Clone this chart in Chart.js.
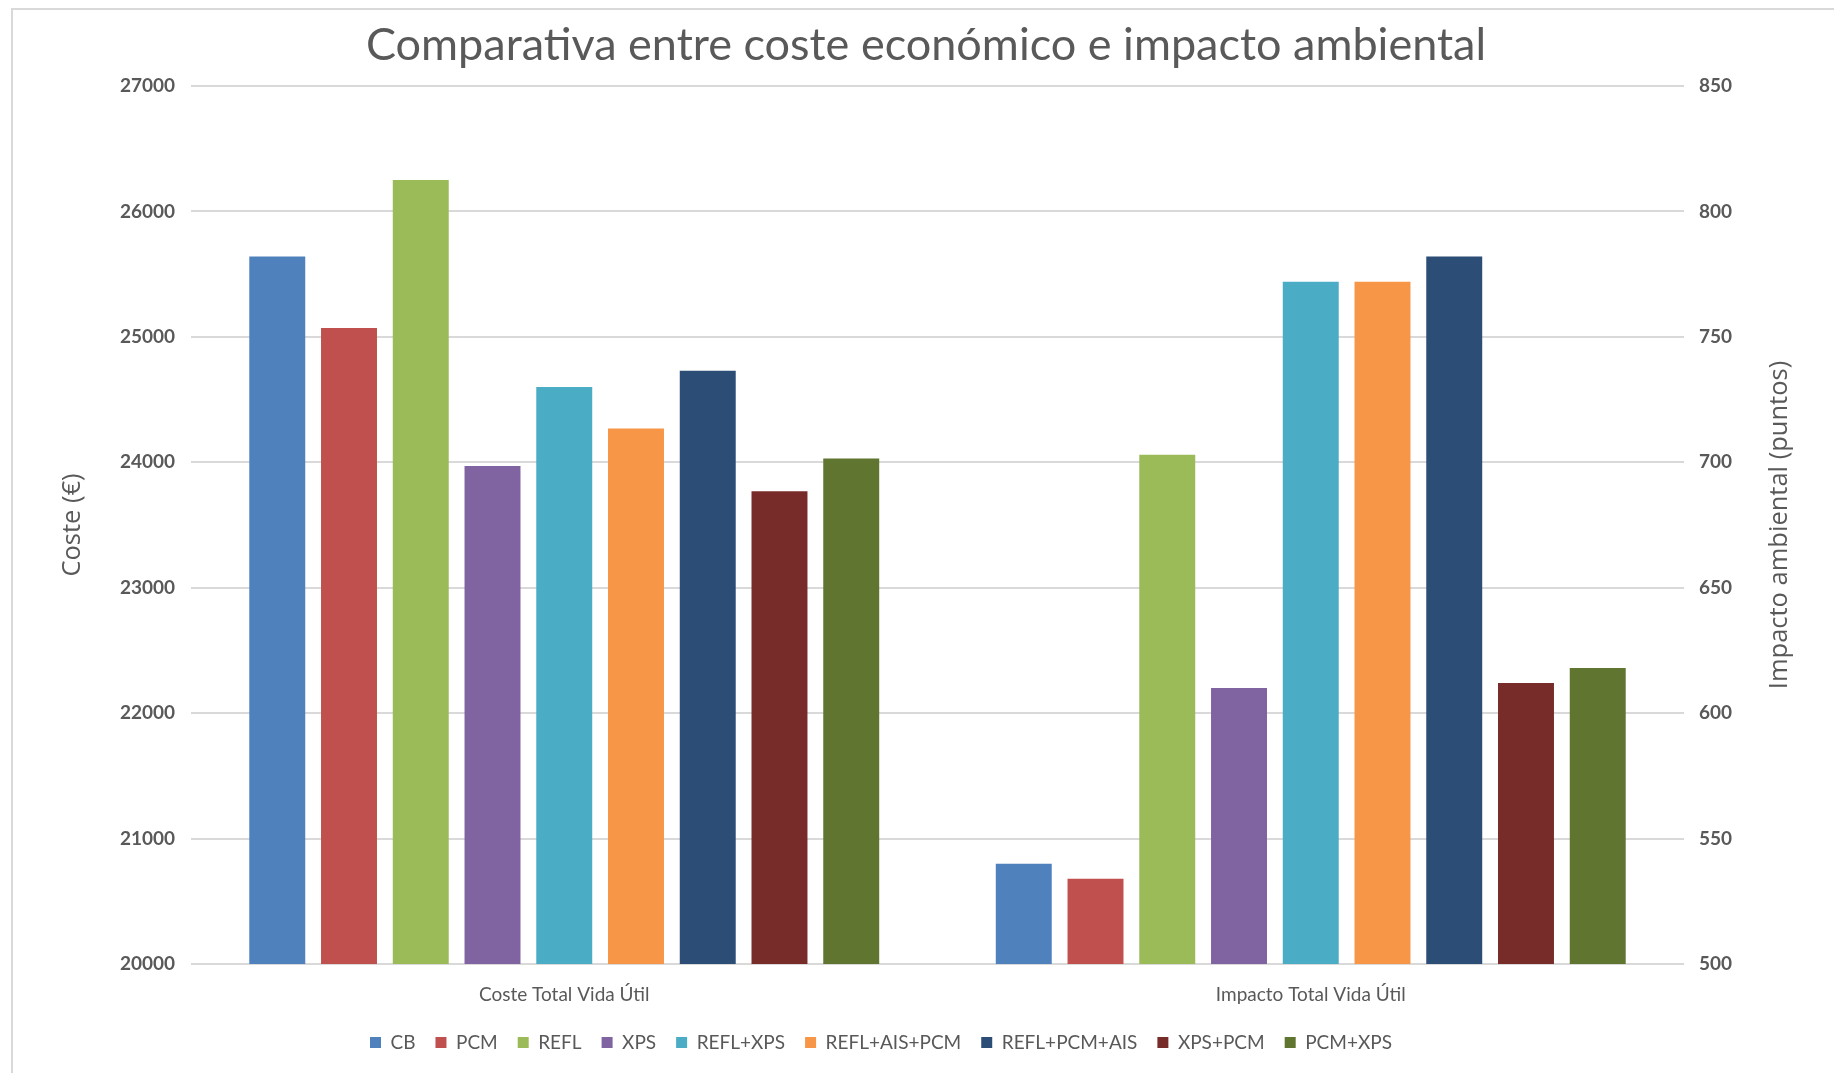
<!DOCTYPE html>
<html>
<head>
<meta charset="utf-8">
<script src="https://cdn.jsdelivr.net/npm/chart.js@4.4.1/dist/chart.umd.min.js"></script>
<style>
  html, body { margin: 0; padding: 0; background: #fff; }
  #wrap { position: relative; width: 1834px; height: 1073px; }
  #frame { position: absolute; left: 11px; top: 8px; right: -4px; bottom: -4px;
           border: 2px solid #d9d9d9; }
  canvas { position: absolute; left: 0; top: 0; }
</style>
</head>
<body>
<div id="wrap">
  <div id="frame"></div>
  <canvas id="chart" width="1834" height="1073"></canvas>
</div>
<script>
const categories = ['Coste Total Vida Útil', 'Impacto Total Vida Útil'];
const seriesNames = ['CB', 'PCM', 'REFL', 'XPS', 'REFL+XPS', 'REFL+AIS+PCM', 'REFL+PCM+AIS', 'XPS+PCM', 'PCM+XPS'];
const costeValues = [25640, 25070, 26250, 23970, 24600, 24270, 24730, 23770, 24030];
const impactoValues = [540, 534, 703, 610, 772, 772, 782, 612, 618];
const costeTicks = [20000, 27000, 1000];
const impactoTicks = [500, 850, 50];
const colors = ['#4f81bd', '#c0504d', '#9bbb59', '#8064a2', '#4bacc6', '#f79646', '#2c4d75', '#772c2a', '#5f7530'];

const textColor = '#595959';
const gridColor = '#d9d9d9';
const rightTitle = 'Impacto ambiental (puntos)';

// each series twice: cost on the left axis, impact on the right one
let datasets = [];
for (let i = 0; i < seriesNames.length; i++) {
  datasets.push({
    label: seriesNames[i],
    data: [costeValues[i], null],
    yAxisID: 'y',
    backgroundColor: colors[i],
    skipNull: true
  });
}
for (let i = 0; i < seriesNames.length; i++) {
  datasets.push({
    label: seriesNames[i],
    data: [null, impactoValues[i]],
    yAxisID: 'y1',
    backgroundColor: colors[i],
    skipNull: true
  });
}

// right axis title reads bottom-to-top like the left one
const rightTitlePlugin = {
  id: 'rightTitle',
  afterLayout(chart) {
    // the legend in the original sits a bit left of centre
    chart.legend.left -= 45;
    chart.legend.right -= 45;
  },
  afterDraw(chart) {
    const c = chart.ctx;
    const area = chart.chartArea;
    c.save();
    c.translate(1780, (area.top + area.bottom) / 2);
    c.rotate(-Math.PI / 2);
    c.fillStyle = textColor;
    c.font = '25.5px "Open Sans"';
    c.textAlign = 'center';
    c.textBaseline = 'middle';
    c.fillText(rightTitle, 0, 0);
    c.restore();
  }
};

const ctx = document.querySelector('#chart');
const myChart = new Chart(ctx, {
  type: 'bar',
  data: { labels: categories, datasets: datasets },
  plugins: [rightTitlePlugin],
  options: {
    responsive: false,
    animation: false,
    layout: { padding: { top: 6, left: 48, right: 30, bottom: 11 } },
    datasets: { bar: { barPercentage: 0.78, categoryPercentage: 0.865 } },
    plugins: {
      title: {
        display: true,
        text: 'Comparativa entre coste económico e impacto ambiental',
        color: textColor,
        font: { family: 'Lato', size: 45, weight: 'normal' },
        padding: { top: 12, bottom: 14 }
      },
      legend: {
        position: 'bottom',
        labels: {
          color: textColor,
          font: { family: 'Lato', size: 19 },
          boxWidth: 11,
          boxHeight: 11,
          padding: 20,
          filter: (item) => item.datasetIndex < seriesNames.length
        }
      },
      tooltip: { enabled: false }
    },
    scales: {
      x: {
        grid: { display: false },
        border: { display: false },
        ticks: { color: textColor, font: { family: 'Lato', size: 19 }, padding: 11 },
        afterFit: (scale) => { scale.height = 49; }
      },
      y: {
        position: 'left',
        min: costeTicks[0],
        max: costeTicks[1],
        grid: { color: gridColor, lineWidth: 2, drawTicks: false },
        border: { display: false },
        ticks: { stepSize: costeTicks[2], color: textColor, padding: 16,
                 font: { family: 'Lato', size: 19, weight: 'bold' },
                 callback: (v) => String(v) },
        title: { display: true, text: 'Coste (€)', color: textColor,
                 font: { family: 'Open Sans', size: 25.5 }, padding: { top: 9, bottom: 0 } },
        afterFit: (scale) => { scale.width = 143; }
      },
      y1: {
        position: 'right',
        min: impactoTicks[0],
        max: impactoTicks[1],
        grid: { display: false },
        border: { display: false },
        ticks: { stepSize: impactoTicks[2], color: textColor, padding: 7,
                 font: { family: 'Lato', size: 19, weight: 'bold' },
                 callback: (v) => String(v) },
        afterFit: (scale) => { scale.width = 120; }
      }
    }
  }
});
</script>
</body>
</html>
